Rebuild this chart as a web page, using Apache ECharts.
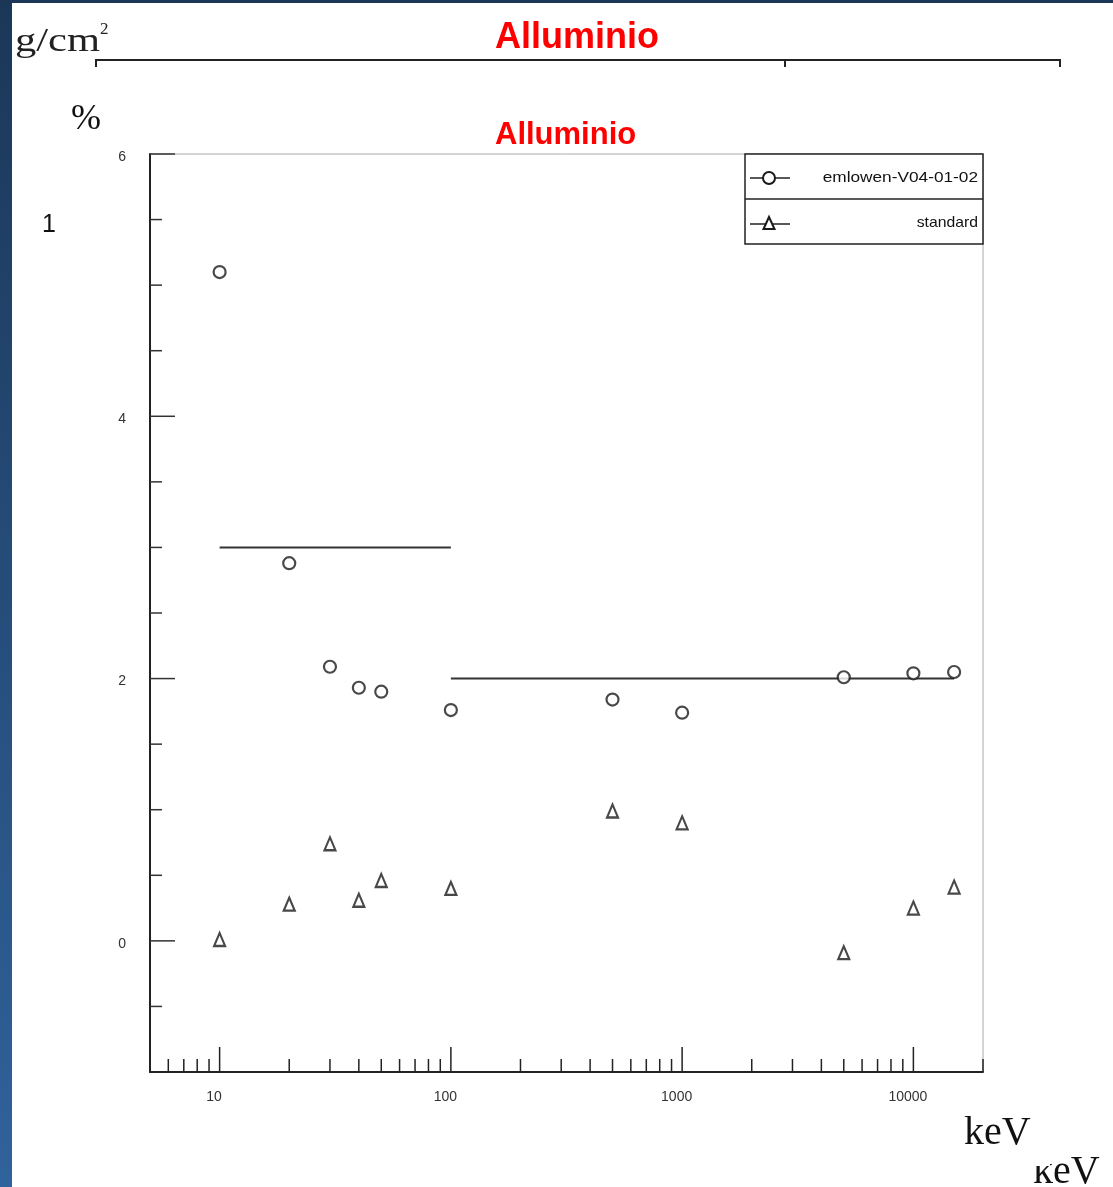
<!DOCTYPE html>
<html><head><meta charset="utf-8">
<script src="https://cdn.jsdelivr.net/npm/echarts@6/dist/echarts.min.js"></script>
<style>html,body{margin:0;padding:0;background:#fff;} #chart{width:1113px;height:1187px;}</style>
</head><body><div id="chart"></div>
<script>
// ---- data ----
const energies = [10, 20, 30, 40, 50, 100, 500, 1000, 5000, 10000, 15000];   // keV
const emlowen  = [5.10, 2.88, 2.09, 1.93, 1.90, 1.76, 1.84, 1.74, 2.01, 2.04, 2.05];
const standard = [0.01, 0.28, 0.74, 0.31, 0.46, 0.40, 0.99, 0.90, -0.09, 0.25, 0.41];
const refLineLow  = [[10, 3], [100, 3]];
const refLineHigh = [[100, 2], [15000, 2]];
const xMajorTicks = [10, 100, 1000, 10000];
const xMinorTicks = [6, 7, 8, 9, 20, 30, 40, 50, 60, 70, 80, 90, 200, 300, 400, 500, 600, 700, 800, 900,
                     2000, 3000, 4000, 5000, 6000, 7000, 8000, 9000, 20000];
const yMajorTicks = [0, 2, 4, 6];
const yMinorTicks = [-0.5, 0.5, 1, 1.5, 2.5, 3, 3.5, 4.5, 5, 5.5];
const yLabelValues = [0, 2, 4, 6];
const seriesNames = ['emlowen-V04-01-02', 'standard'];
const titleText = 'Alluminio';

const chart = echarts.init(document.getElementById('chart'), null, {renderer: 'canvas'});
const FONT = '"Liberation Sans", Arial, sans-serif';
const SERIF = '"Liberation Serif", "Times New Roman", serif';

function tickSeries(values, len, dir) {
  return {
    type: 'custom', silent: true, z: 5, animation: false,
    data: values.map(v => dir === 'x' ? [v, 0] : [10, v]),
    renderItem(params, api) {
      const cs = params.coordSys;
      if (dir === 'x') {
        const x = api.coord([api.value(0), 0])[0];
        const y0 = cs.y + cs.height;
        return {type: 'line', shape: {x1: x, y1: y0, x2: x, y2: y0 - len}, style: {stroke: '#222', lineWidth: 1.5}};
      }
      const y = api.coord([10, api.value(1)])[1];
      return {type: 'line', shape: {x1: cs.x, y1: y, x2: cs.x + len, y2: y}, style: {stroke: '#333', lineWidth: 1.5}};
    }
  };
}

const option = {
  backgroundColor: '#ffffff',
  animation: false,
  title: [
    {text: titleText, left: 490, top: 15, textStyle: {color: '#ff0000', fontSize: 36, fontWeight: 'bold', fontFamily: FONT}},
    {text: titleText, left: 490, top: 115, textStyle: {color: '#ff0000', fontSize: 31, fontWeight: 'bold', fontFamily: FONT}}
  ],
  grid: {left: 150, top: 154, width: 833, height: 918, show: true, borderColor: '#aaaaaa', borderWidth: 1, backgroundColor: 'transparent'},
  xAxis: {
    type: 'log', logBase: 10, min: 5, max: 20000,
    axisLine: {show: true, onZero: false, lineStyle: {color: '#222', width: 2}},
    axisTick: {show: false}, splitLine: {show: false}, minorTick: {show: false}, minorSplitLine: {show: false},
    axisLabel: {showMinLabel: false, showMaxLabel: false, formatter: v => String(Math.round(v)),
      fontSize: 14, color: '#333', fontFamily: FONT, margin: 18, padding: [0, 11, 0, 0]}
  },
  yAxis: {
    type: 'value', min: -1, max: 6, interval: 1,
    axisLine: {show: true, onZero: false, lineStyle: {color: '#222', width: 2}},
    axisTick: {show: false}, splitLine: {show: false},
    axisLabel: {formatter: v => yLabelValues.includes(v) ? String(v) : '',
      fontSize: 14, color: '#333', fontFamily: FONT, margin: 24, verticalAlign: 'top', lineHeight: 6}
  },
  series: [
    {type: 'line', data: refLineLow, symbol: 'none', z: 2, silent: true, lineStyle: {color: '#333', width: 2}},
    {type: 'line', data: refLineHigh, symbol: 'none', z: 2, silent: true, lineStyle: {color: '#333', width: 2}},
    {name: seriesNames[0], type: 'scatter', z: 4, symbol: 'circle', symbolSize: 12,
      itemStyle: {color: '#fff', borderColor: '#1a1a1a', borderWidth: 2.2},
      data: energies.map((e, i) => [e, emlowen[i]])},
    {name: seriesNames[1], type: 'scatter', z: 4, symbol: 'triangle', symbolSize: [11, 13],
      itemStyle: {color: '#fff', borderColor: '#1a1a1a', borderWidth: 2.2},
      data: energies.map((e, i) => [e, standard[i]])},
    tickSeries(xMajorTicks, 25, 'x'),
    tickSeries(xMinorTicks, 13, 'x'),
    tickSeries(yMajorTicks, 25, 'y'),
    tickSeries(yMinorTicks, 12, 'y')
  ],
  graphic: [
    // slide background strips
    {type: 'rect', z: 100, shape: {x: 0, y: 0, width: 12, height: 1187},
      style: {fill: {type: 'linear', x: 0, y: 0, x2: 0, y2: 1, colorStops: [{offset: 0, color: '#1b3758'}, {offset: 1, color: '#30629b'}]}}},
    {type: 'rect', z: 100, shape: {x: 0, y: 0, width: 1113, height: 3}, style: {fill: '#1b3656'}},
    // ghost chart behind
    {type: 'text', x: 15, y: 59, scaleX: 1.25, style: {text: 'g/cm', font: '34px ' + SERIF, fill: '#222', verticalAlign: 'bottom'}},
    {type: 'text', x: 100, y: 38, style: {text: '2', font: '17px ' + SERIF, fill: '#222', verticalAlign: 'bottom'}},
    {type: 'polyline', shape: {points: [[96, 67], [96, 60], [1060, 60], [1060, 67]]}, style: {stroke: '#222', lineWidth: 2, fill: null}},
    {type: 'line', shape: {x1: 785, y1: 60, x2: 785, y2: 67}, style: {stroke: '#222', lineWidth: 2}},
    {type: 'text', x: 71, y: 138, style: {text: '%', font: '36px ' + SERIF, fill: '#111', verticalAlign: 'bottom'}},
    {type: 'text', x: 49, y: 225, style: {text: '1', font: '25px ' + FONT, fill: '#111', align: 'center', verticalAlign: 'middle'}},
    {type: 'text', x: 964, y: 1153, style: {text: 'keV', font: '40px ' + SERIF, fill: '#111', verticalAlign: 'bottom'}},
    {type: 'text', x: 1033, y: 1192, style: {text: 'keV', font: '40px ' + SERIF, fill: '#111', verticalAlign: 'bottom'}},
    {type: 'rect', shape: {x: 1028, y: 1150, width: 22, height: 16}, style: {fill: '#fff'}},
    // legend box
    {type: 'rect', z: 10, shape: {x: 745, y: 154, width: 238, height: 90}, style: {fill: '#fff', stroke: '#222', lineWidth: 1.5}},
    {type: 'line', z: 11, shape: {x1: 745, y1: 199, x2: 983, y2: 199}, style: {stroke: '#222', lineWidth: 1.5}},
    {type: 'line', z: 11, shape: {x1: 750, y1: 178, x2: 790, y2: 178}, style: {stroke: '#222', lineWidth: 1.5}},
    {type: 'circle', z: 12, shape: {cx: 769, cy: 178, r: 6}, style: {fill: '#fff', stroke: '#1a1a1a', lineWidth: 2}},
    {type: 'line', z: 11, shape: {x1: 750, y1: 224, x2: 790, y2: 224}, style: {stroke: '#222', lineWidth: 1.5}},
    {type: 'polygon', z: 12, shape: {points: [[769, 217], [763.5, 229], [774.5, 229]]}, style: {fill: '#fff', stroke: '#1a1a1a', lineWidth: 2}},
    {type: 'text', z: 12, x: 978, y: 178, scaleX: 1.15, style: {text: seriesNames[0], font: '15px ' + FONT, fill: '#111', align: 'right', verticalAlign: 'middle'}},
    {type: 'text', z: 12, x: 978, y: 223, scaleX: 1.05, style: {text: seriesNames[1], font: '15px ' + FONT, fill: '#111', align: 'right', verticalAlign: 'middle'}}
  ]
};
chart.setOption(option);
</script>
</body></html>
